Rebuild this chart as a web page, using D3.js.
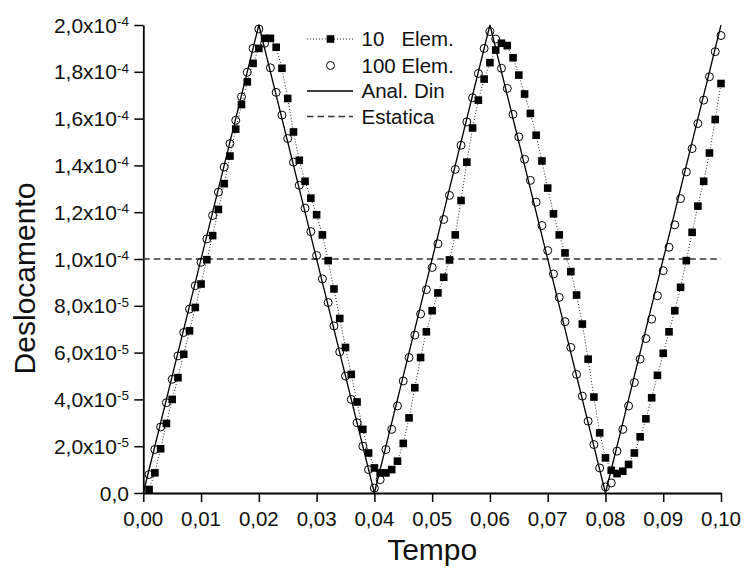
<!DOCTYPE html>
<html>
<head>
<meta charset="utf-8">
<script src="https://cdn.jsdelivr.net/npm/d3@7"></script>
<style>
  html, body { margin: 0; padding: 0; background: #fff; }
  svg { display: block; font-family: "Liberation Sans", Arial, sans-serif; }
</style>
</head>
<body>
<svg id="chart" width="744" height="573"></svg>
<script>
// ---------------- data ----------------
const tempo = [
  0.001,0.002,0.003,0.004,0.005,0.006,0.007,0.008,0.009,0.010,
  0.011,0.012,0.013,0.014,0.015,0.016,0.017,0.018,0.019,0.020,
  0.021,0.022,0.023,0.024,0.025,0.026,0.027,0.028,0.029,0.030,
  0.031,0.032,0.033,0.034,0.035,0.036,0.037,0.038,0.039,0.040,
  0.041,0.042,0.043,0.044,0.045,0.046,0.047,0.048,0.049,0.050,
  0.051,0.052,0.053,0.054,0.055,0.056,0.057,0.058,0.059,0.060,
  0.061,0.062,0.063,0.064,0.065,0.066,0.067,0.068,0.069,0.070,
  0.071,0.072,0.073,0.074,0.075,0.076,0.077,0.078,0.079,0.080,
  0.081,0.082,0.083,0.084,0.085,0.086,0.087,0.088,0.089,0.090,
  0.091,0.092,0.093,0.094,0.095,0.096,0.097,0.098,0.099,0.100
];
// 10 elements (values in units of 1e-5)
const elem10 = [
  0.15,0.86,1.89,2.97,4.00,4.93,5.93,6.93,7.93,8.93,
  9.97,11.00,12.12,13.22,14.40,15.55,16.60,17.57,18.36,19.00,
  19.43,19.43,19.05,18.15,16.86,15.43,14.22,13.32,12.60,11.89,
  11.03,9.93,8.72,7.46,6.22,5.07,3.89,2.72,1.71,1.07,
  0.86,0.86,1.00,1.36,2.12,3.21,4.50,5.79,6.89,7.79,
  8.55,9.22,9.96,11.03,12.50,14.14,15.60,16.79,17.69,18.39,
  18.93,19.22,19.12,18.60,17.86,17.05,16.22,15.29,14.19,13.03,
  11.93,11.03,10.26,9.46,8.46,7.22,5.72,4.10,2.57,1.50,
  0.97,0.83,0.93,1.22,1.71,2.40,3.17,4.07,5.03,5.97,
  6.89,7.79,8.79,9.93,11.14,12.26,13.32,14.53,15.96,17.50
];
// 100 elements (values in units of 1e-5)
const elem100 = [
  0.79,1.86,2.82,3.86,4.86,5.86,6.86,7.86,8.86,9.86,
  10.86,11.86,12.86,13.93,14.93,15.93,16.93,17.98,19.00,19.83,
  19.22,18.17,17.12,16.15,15.15,14.14,13.15,12.17,11.17,10.15,
  9.15,8.14,7.14,6.03,5.00,4.00,3.00,2.00,1.00,0.21,
  0.57,1.86,2.72,3.72,4.79,5.79,6.75,7.65,8.69,9.64,
  10.65,11.69,12.72,13.83,14.86,15.86,16.89,17.93,19.00,19.72,
  19.40,18.15,17.29,16.18,15.22,14.26,13.36,12.43,11.43,10.36,
  9.36,8.36,7.32,6.22,5.07,4.14,3.07,2.07,1.07,0.26,
  0.43,1.79,2.72,3.72,4.72,5.72,6.60,7.43,8.43,9.50,
  10.50,11.46,12.58,13.72,14.72,15.79,16.79,17.79,18.86,19.55
];
// analytical dynamic solution (triangle wave)
const analTempo = [0.00, 0.02, 0.04, 0.06, 0.08, 0.10];
const analDin   = [0.0, 2.0e-4, 0.0, 2.0e-4, 0.0, 2.0e-4];
// static solution
const estatica = 1.0e-4;
const valueUnit = 1e-5;

const xTicks = [0,0.01,0.02,0.03,0.04,0.05,0.06,0.07,0.08,0.09,0.10];
const xTickLabels = ["0,00","0,01","0,02","0,03","0,04","0,05","0,06","0,07","0,08","0,09","0,10"];
const yTicks = [0,2e-5,4e-5,6e-5,8e-5,1e-4,1.2e-4,1.4e-4,1.6e-4,1.8e-4,2e-4];
const yTickMant = ["0,0","2,0x10","4,0x10","6,0x10","8,0x10","1,0x10","1,2x10","1,4x10","1,6x10","1,8x10","2,0x10"];
const yTickExp  = ["","-5","-5","-5","-5","-4","-4","-4","-4","-4","-4"];
const legendLabels = ["10   Elem.", "100 Elem.", "Anal. Din", "Estatica"];

// ---------------- chart ----------------
const svg = d3.select("#chart");
const x = d3.scaleLinear().domain([0, 0.1]).range([143.3, 721]);
const y = d3.scaleLinear().domain([0, 2e-4]).range([493, 25]);

// axes
const xMinor = d3.range(0.005, 0.1, 0.01);
const yMinor = d3.range(1e-5, 2e-4, 2e-5);

const gx = svg.append("g").attr("transform", `translate(0,${y(0)})`);
gx.call(d3.axisBottom(x).tickValues(xMinor).tickSize(5).tickFormat("").tickSizeOuter(0));
gx.call(d3.axisBottom(x).tickValues(xTicks).tickSize(9).tickFormat("").tickSizeOuter(0));
const gy = svg.append("g").attr("transform", `translate(${x(0)},0)`);
gy.call(d3.axisLeft(y).tickValues(yMinor).tickSize(5).tickFormat("").tickSizeOuter(0));
gy.call(d3.axisLeft(y).tickValues(yTicks).tickSize(9).tickFormat("").tickSizeOuter(0));
svg.selectAll(".domain").attr("stroke", "#000").attr("stroke-width", 1.8);
svg.selectAll(".tick line").attr("stroke", "#000").attr("stroke-width", 1.5);

// tick labels
xTicks.forEach((v, i) => {
  svg.append("text").attr("x", x(v)).attr("y", y(0) + 33)
    .attr("text-anchor", "middle").attr("font-size", 20.5).attr("fill", "#111")
    .text(xTickLabels[i]);
});
yTicks.forEach((v, i) => {
  const t = svg.append("text").attr("x", 129).attr("y", y(v) + 7.5)
    .attr("text-anchor", "end").attr("font-size", 21).attr("fill", "#111");
  t.append("tspan").text(yTickMant[i]);
  if (yTickExp[i]) {
    t.append("tspan").attr("dy", -6.5).attr("font-size", 13.5).text(yTickExp[i]);
  }
});

// axis titles
svg.append("text").attr("x", (x(0) + x(0.1)) / 2).attr("y", 560)
  .attr("text-anchor", "middle").attr("font-size", 30).attr("fill", "#111").text("Tempo");
svg.append("text").attr("transform", `translate(35,${278.5}) rotate(-90)`)
  .attr("text-anchor", "middle").attr("font-size", 30).attr("fill", "#111").text("Deslocamento");

// static line
svg.append("line").attr("x1", x(0)).attr("x2", x(0.1))
  .attr("y1", y(estatica)).attr("y2", y(estatica))
  .attr("stroke", "#333").attr("stroke-width", 1.3).attr("stroke-dasharray", "6.5,4");

// analytical line
const anal = analTempo.map((t, i) => [t, analDin[i]]);
svg.append("path").datum(anal)
  .attr("d", d3.line().x(d => x(d[0])).y(d => y(d[1])))
  .attr("fill", "none").attr("stroke", "#000").attr("stroke-width", 1.3);

// 10 elem dotted line + squares
const e10 = tempo.map((t, i) => [t, elem10[i] * valueUnit]);
svg.append("path").datum(e10)
  .attr("d", d3.line().x(d => x(d[0])).y(d => y(d[1])))
  .attr("fill", "none").attr("stroke", "#222").attr("stroke-width", 1)
  .attr("stroke-dasharray", "1,2");
svg.append("g").selectAll("rect").data(e10).join("rect")
  .attr("x", d => x(d[0]) - 3.8).attr("y", d => y(d[1]) - 3.8)
  .attr("width", 7.6).attr("height", 7.6).attr("fill", "#000");

// 100 elem circles
const e100 = tempo.map((t, i) => [t, elem100[i] * valueUnit]);
svg.append("g").selectAll("circle").data(e100).join("circle")
  .attr("cx", d => x(d[0])).attr("cy", d => y(d[1])).attr("r", 4)
  .attr("fill", "none").attr("stroke", "#000").attr("stroke-width", 1);

// legend
const lg = svg.append("g");
const rowY = [39, 65.5, 91, 116.5];
const lx0 = 307, lx1 = 353, lxm = 330.5, ltx = 361.5;
lg.append("line").attr("x1", lx0).attr("x2", lx1).attr("y1", rowY[0]).attr("y2", rowY[0])
  .attr("stroke", "#222").attr("stroke-width", 1).attr("stroke-dasharray", "1,2");
lg.append("rect").attr("x", lxm - 3.8).attr("y", rowY[0] - 3.8).attr("width", 7.6).attr("height", 7.6).attr("fill", "#000");
lg.append("circle").attr("cx", lxm).attr("cy", rowY[1]).attr("r", 4)
  .attr("fill", "none").attr("stroke", "#000").attr("stroke-width", 1);
lg.append("line").attr("x1", lx0).attr("x2", lx1).attr("y1", rowY[2]).attr("y2", rowY[2])
  .attr("stroke", "#000").attr("stroke-width", 1.3);
lg.append("line").attr("x1", lx0).attr("x2", lx1).attr("y1", rowY[3]).attr("y2", rowY[3])
  .attr("stroke", "#333").attr("stroke-width", 1.3).attr("stroke-dasharray", "6.5,4");
legendLabels.forEach((s, i) => {
  lg.append("text").attr("x", ltx).attr("y", rowY[i] + 7)
    .attr("font-size", 20.5).attr("fill", "#111")
    .style("white-space", "pre").text(s);
});
</script>
</body>
</html>
